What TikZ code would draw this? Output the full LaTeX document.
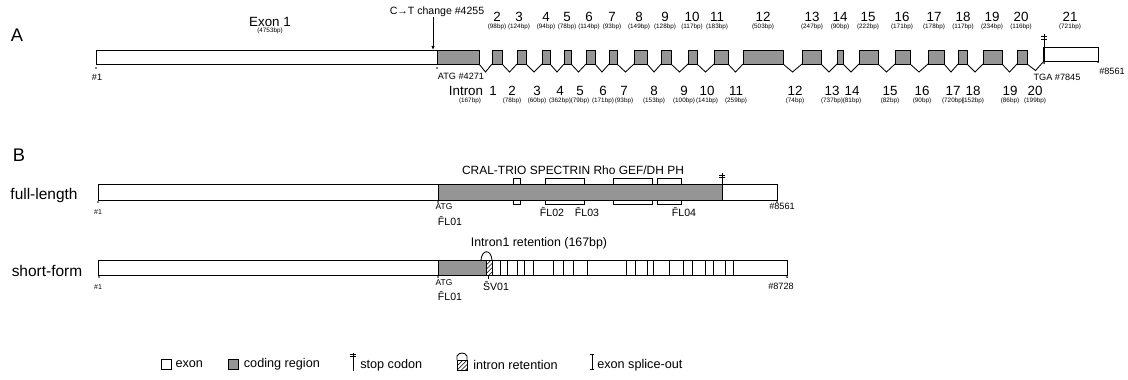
\documentclass[tikz,border=0pt]{standalone}
\usepackage{fontspec}
\setmainfont{Liberation Sans}
\usetikzlibrary{arrows.meta, positioning, calc, patterns}
\definecolor{cdsgray}{HTML}{959595}
\newcommand{\fsz}[1]{\fontsize{#1}{#1}\selectfont}

\begin{document}
\begin{tikzpicture}[x=0.025cm, y=-0.025cm,
  box/.style={draw, line width=0.6pt, inner sep=0pt, outer sep=0pt, minimum height=0.35cm},
  utr/.style={box, fill=white},
  cds/.style={box, fill=cdsgray},
  intron/.style={line width=0.6pt},
  panel/.style={font=\fsz{13}, inner sep=0pt},
  iso/.style={font=\fsz{11}, inner sep=0pt},
  num/.style={font=\fsz{9.5}, inner sep=0pt},
  bp/.style={font=\fsz{4.5}, inner sep=0pt},
  poslbl/.style={font=\fsz{6.5}, inner sep=0pt},
  primer/.style={font=\fsz{7.5}, inner sep=0pt},
  keytext/.style={font=\fsz{9}, inner sep=0pt, anchor=west},
  dotmark/.style={fill, circle, inner sep=0pt, minimum size=1.4pt},
  stopline/.style={line width=0.5pt},
]
\useasboundingbox (0,0) rectangle (1128,380);

% ---------------- panel A: gene structure
\node[panel] (A) at (17,35) {A};
\node[utr, minimum width=8.525cm] (ex1) at (266.5,57) {};
\node[cds, minimum width=1.05cm] (c1) at (458,57) {};
\node[num] (lex1) at (270,22) {Exon 1};
\node[bp] (bex1) at (270,31) {(4753bp)};

\foreach \n/\xa/\xb/\lx/\len in {2/492/502/497/98, 3/517/526/519/124, 4/542/550/546/94,
    5/564/571/567/78, 6/586/595/589/114, 7/609/617/612/93, 8/634/647/639/149,
    9/661/671/665/128, 10/688/697/692/117, 11/714/728/717/183, 12/743/783/763/503,
    13/802/821/812/247, 14/837/843/840/90, 15/859/878/868/222, 16/895/910/902/171,
    17/928/944/934/178, 18/958/967/963/117, 19/983/1002/992/234, 20/1017/1027/1021/116}{
  \pgfmathsetmacro\w{(\xb-\xa)*0.025}
  \node[cds, minimum width=\w cm] (e\n) at ({(\xa+\xb)/2},57) {};
  \node[num] (n\n) at (\lx,17) {\n};
  \node[bp] (b\n) at (\lx,27) {(\len bp)};
}
\node[utr, minimum width=1.35cm] (e21) at (1071,54) {};
\draw[line width=1.4pt] (e21.north west) -- (e21.south west);
\node[num] (n21) at (1070,17) {21};
\node[bp] (b21) at (1070,27) {(721bp)};
\draw[stopline] (e21.north west) -- ++(0,-13);
\draw[stopline] (1041,36) -- (1047,36) (1041,39) -- (1047,39);

% introns
\draw[intron] (c1.south east) -- ($(c1.south east)!.5!(e2.south west)+(0,8)$) -- (e2.south west);
\foreach \i [evaluate=\i as \j using int(\i+1)] in {2,...,20}
  \draw[intron] (e\i.south east) -- ($(e\i.south east)!.5!(e\j.south west)+(0,8)$) -- (e\j.south west);

\node[num] (intr) at (466,91) {Intron};
\node[num] (i1) at (493,91) {1};
\node[bp] (ib1) at (470,101) {(167bp)};
\foreach \n/\lx/\len in {2/512/78, 3/537/60, 4/560/362, 5/580/79, 6/603/171, 7/624/93,
    8/654/153, 9/684/100, 10/707/141, 11/736/259, 12/795/74, 13/832/737, 14/852/81,
    15/890/82, 16/922/90, 17/953/720, 18/973/152, 19/1010/86, 20/1035/199}{
  \node[num] (i\n) at (\lx,91) {\n};
  \node[bp] (ib\n) at (\lx,101) {(\len bp)};
}

% positions
\node[dotmark] (pA1) at (96,68) {};
\node[poslbl] (lA1) at (97,77) {\#1};
\node[dotmark] (pAatg) at (437,68) {};
\node[poslbl] (lAatg) at (461,76) {ATG \#4271};
\node[dotmark] (pAtga) at (1044,63) {};
\node[poslbl] (lAtga) at (1057,77) {TGA \#7845};
\node[dotmark] (pAend) at (1098,62) {};
\node[poslbl] (lAend) at (1112,71) {\#8561};
\node[font=\fsz{7.5}, inner sep=0pt] (ct) at (437,12) {C→T change \#4255};
\coordinate (snp) at (433,50);
\draw[line width=0.6pt, -{Latex[length=3pt, width=2.5pt]}] (ct.south -| snp) -- (snp);

% ---------------- panel B: transcripts
\node[panel] (B) at (19,155) {B};
\node[iso] (fl) at (44,196) {full-length};
\foreach \xa/\xb in {513/520, 545/584, 613/652, 657/681}
  \draw[line width=0.6pt] (\xa,178) rectangle (\xb,204);
\node[utr, minimum width=8.5cm, minimum height=0.4cm] (fl5) at (268,192) {};
\node[cds, minimum width=7.1cm, minimum height=0.4cm] (flc) at (580,192) {};
\node[utr, minimum width=1.375cm, minimum height=0.4cm] (fl3) at (749.5,192) {};
\node[font=\fsz{8.5}, inner sep=0pt] (dom) at (573,170) {CRAL-TRIO SPECTRIN Rho GEF/DH PH};
\draw[stopline] (flc.north east) -- ++(0,-11);
\draw[stopline] (719,175) -- (725,175) (719,177.5) -- (725,177.5);
\node[dotmark] (pB1) at (98,202) {};
\node[poslbl, font=\fsz{5}] (lB1) at (98,212) {\#1};
\node[dotmark] (pBatg) at (438,202) {};
\node[poslbl, font=\fsz{6}] (lBatg) at (444,207) {ATG};
\node[primer] (fl01) at (450,221) {\=FL01};
\node[primer] (fl02) at (552,212) {\=FL02};
\node[primer] (fl03) at (587,212) {\=FL03};
\node[primer] (fl04) at (684,212) {\=FL04};
\node[dotmark] (pBend) at (777,202) {};
\node[poslbl] (lBend) at (782,206) {\#8561};

\node[iso] (sf) at (47,271) {short-form};
\node[utr, minimum width=17.2cm, minimum height=0.375cm] (sfb) at (443,267.5) {};
\node[cds, minimum width=1.2cm, minimum height=0.375cm] (sfc) at (462,267.5) {};
\draw[line width=0.6pt, pattern=north east lines] (486,260) rectangle (492,275);
\draw[line width=0.6pt] (481,260) .. controls (482,249) and (491,249) .. (492,260);
\foreach \xv in {500,507,517,524,533,553,563,573,587,626,635,647,653,669,683,692,705,713,725,733}
  \draw[line width=0.6pt] (\xv,260) -- (\xv,275);
\node[font=\fsz{8.8}, inner sep=0pt] (ret) at (539,243) {Intron1 retention (167bp)};
\node[dotmark] (pS1) at (99,277) {};
\node[poslbl, font=\fsz{5}] (lS1) at (98,287) {\#1};
\node[dotmark] (pSatg) at (438,277) {};
\node[poslbl, font=\fsz{6}] (lSatg) at (444,283) {ATG};
\node[primer] (sfl01) at (450,296) {\=FL01};
\draw[line width=0.5pt, dashed] (488,275) -- (488,281);
\node[primer] (sv01) at (496,286) {\=SV01};
\node[dotmark] (pSend) at (787,277) {};
\node[poslbl] (lSend) at (781,286) {\#8728};

% ---------------- legend
\node[utr, minimum width=0.25cm, minimum height=0.25cm] (k1) at (166,364) {};
\node[keytext, right=3pt of k1] (k1t) {exon};
\node[cds, minimum width=0.25cm, minimum height=0.25cm] (k2) at (233,364) {};
\node[keytext, right=4pt of k2] (k2t) {coding region};
\draw[stopline] (353,371) -- (353,353);
\draw[stopline] (350,354) -- (356,354) (350,356.5) -- (356,356.5);
\node[keytext] (k3t) at (360,365) {stop codon};
\draw[line width=0.6pt, pattern=north east lines] (457,360) rectangle (467,370);
\draw[line width=0.6pt] (457,360) -- (457,356) .. controls (459,352) and (465,352) .. (467,356) -- (467,360);
\node[keytext] (k4t) at (473,365) {intron retention};
\draw[line width=0.5pt] (592,354) -- (592,369) (590,354) -- (594,354) (590,369) -- (594,369);
\node[keytext] (k5t) at (597,365) {exon splice-out};
\end{tikzpicture}
\end{document}
